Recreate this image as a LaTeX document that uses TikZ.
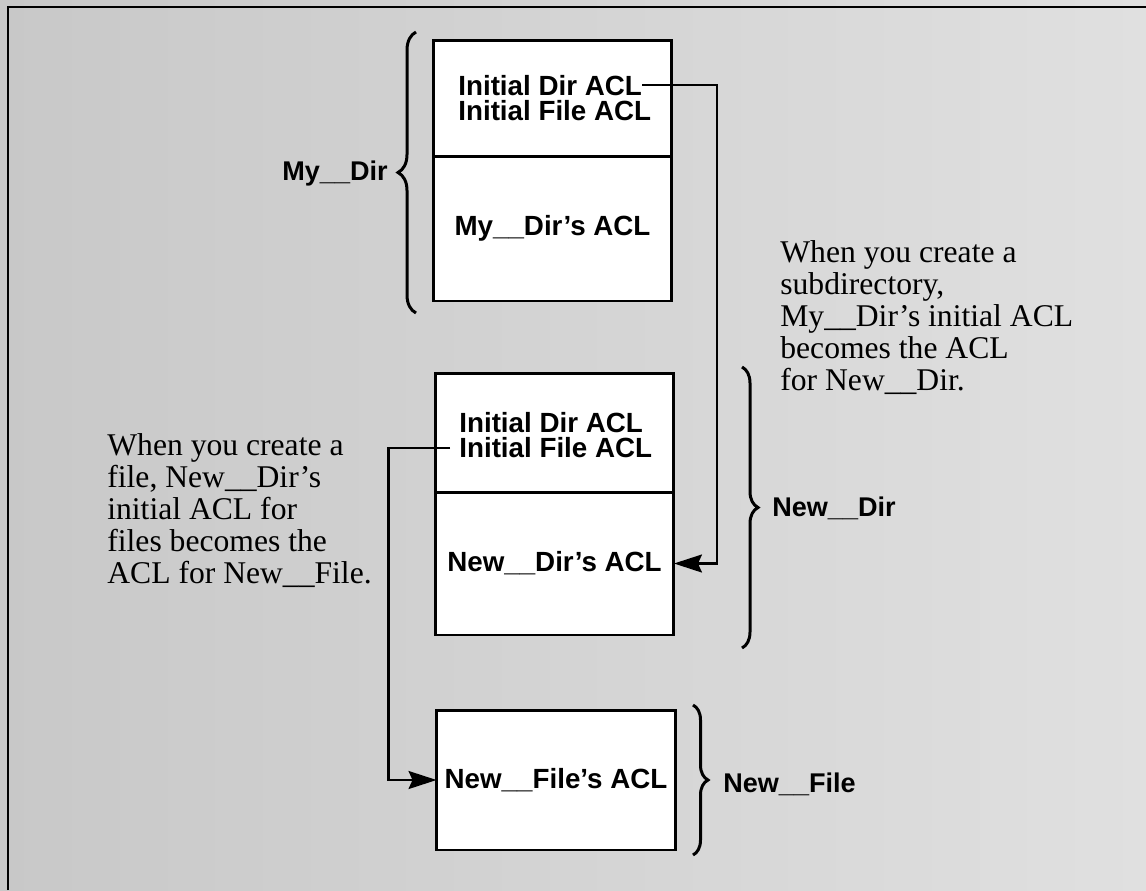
\documentclass[tikz,border=0pt]{standalone}
\usepackage{fontspec}
\newfontfamily\boxfont{Liberation Sans}
\newfontfamily\notefont{Liberation Serif}
\usepackage{tikz}
\usetikzlibrary{arrows.meta,calc,decorations.pathreplacing}
\definecolor{stipple}{RGB}{200,200,200}
\definecolor{stipplelight}{RGB}{224,224,224}

\begin{document}
\begin{tikzpicture}[x=0.02cm, y=-0.02cm,
    part/.style={draw, fill=white, line width=1.7pt, minimum width=4.78cm, inner sep=0pt, outer sep=0pt,
                 font=\boxfont\bfseries\fontsize{15.8}{17}\selectfont},
    txt/.style={inner sep=0pt, anchor=north west, align=left, font=\boxfont\bfseries\fontsize{15.8}{14.2}\selectfont},
    lbl/.style={inner sep=0pt, font=\boxfont\bfseries\fontsize{15.4}{17}\selectfont},
    note/.style={inner sep=0pt, anchor=north west, align=left, font=\notefont\fontsize{18}{18.2}\selectfont},
    conn/.style={line width=1.2pt},
    arr/.style={conn, -{Stealth[length=0.56cm, width=0.36cm, inset=0.08cm]}},
    brc/.style={decorate, decoration={brace, amplitude=#1}, line width=1.7pt}
]
\useasboundingbox (0,0) rectangle (1146,890);
\fill[left color=stipple, right color=stipplelight] (0,0) rectangle (1146,890);
\draw[line width=1.7pt] (8,890) -- (8,7) -- (1146,7);

\node[part, minimum height=2.32cm] (mytop)   at (552.5,98)  {};
\node[part, minimum height=2.9cm]  (mybot)   at (552.5,228.5) {My\_\_Dir’s ACL};
\node[part, minimum height=2.38cm] (newtop)  at (554.5,432.5) {};
\node[part, minimum height=2.86cm] (newbot)  at (554.5,563.5) {New\_\_Dir’s ACL};
\node[part, minimum height=2.8cm]  (filebox) at (556,780)   {New\_\_File’s ACL};

\node[txt] (myinit)  at (458,75)  {Initial Dir ACL\\Initial File ACL};
\node[txt] (newinit) at (459,412) {Initial Dir ACL\\Initial File ACL};
\coordinate (mydirend)    at ($(myinit.north west)+(184,10)$);
\coordinate (newfilestart) at ($(newinit.north west)+(-9,36)$);

\draw[arr] (mydirend) -| ($(newbot.east)+(43,0)$) -- (newbot.east);
\draw[arr] (newfilestart) -| ($(filebox.west)+(-48,0)$) -- (filebox.west);

\draw[brc=0.36cm] (416,313) -- (416,32);
\draw[brc=0.32cm] (742,367) -- (742,648);
\draw[brc=0.3cm]  (693,705) -- (693,855);
\node[lbl, anchor=east] (mydirlbl)   at (388,173) {My\_\_Dir};
\node[lbl, anchor=west] (newdirlbl)  at (772,508) {New\_\_Dir};
\node[lbl, anchor=west] (newfilelbl) at (723,784) {New\_\_File};

\node[note] (subdirnote) at (780,240) {When you create a\\subdirectory,\\My\_\_Dir’s initial ACL\\becomes the ACL\\for New\_\_Dir.};
\node[note] (filenote)   at (107,433) {When you create a\\file, New\_\_Dir’s\\initial ACL for\\files becomes the\\ACL for New\_\_File.};
\end{tikzpicture}
\end{document}
